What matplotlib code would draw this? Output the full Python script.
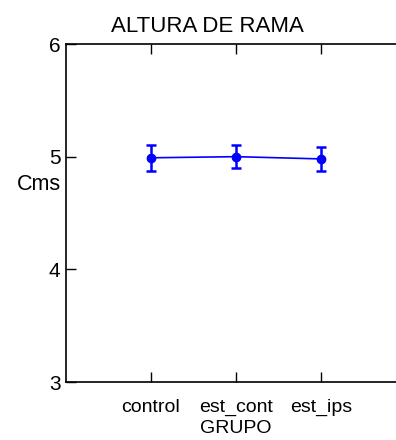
import matplotlib
matplotlib.use("Agg")
import matplotlib.pyplot as plt

categories = ["control", "est_cont", "est_ips"]
means = [4.99, 5.00, 4.98]
errors = [0.117, 0.105, 0.104]
yticks = [3, 4, 5, 6]

plt.rcParams['font.family'] = ['Liberation Sans', 'DejaVu Sans']

W, H = 396, 440
fig = plt.figure(figsize=(W / 100, H / 100), dpi=100)
left, right, top, bottom = 66, 406, 44, 382
ax = fig.add_axes([left / W, (H - bottom) / H, (right - left) / W, (bottom - top) / H])

x = list(range(1, len(categories) + 1))
ax.errorbar(x, means, yerr=errors, color='#0000ff', marker='o', markersize=6,
            linewidth=1.2, elinewidth=1.8, capsize=3.6, capthick=1.8)

ax.set_xlim(0, 4)
ax.set_ylim(3, 6)
ax.set_xticks(x)
ax.set_xticklabels(categories, fontsize=14)
ax.set_yticks(yticks)
ax.set_yticklabels([str(v) for v in yticks], fontsize=15)
ax.tick_params(direction='in', length=7, width=1, top=True, right=True)
ax.tick_params(axis='x', pad=12)
ax.tick_params(axis='y', pad=4)
for s in ax.spines.values():
    s.set_linewidth(1.2)

ax.set_xlabel("GRUPO", fontsize=14, labelpad=3)
ax.set_ylabel("Cms", fontsize=15.5, rotation=0, va='center', ha='center')
ax.yaxis.set_label_coords(-0.08, 0.585)
fig.text(207 / W, 1 - 32 / H, "ALTURA DE RAMA", fontsize=16, ha='center', va='baseline')

fig.savefig("out.png", dpi=100)
